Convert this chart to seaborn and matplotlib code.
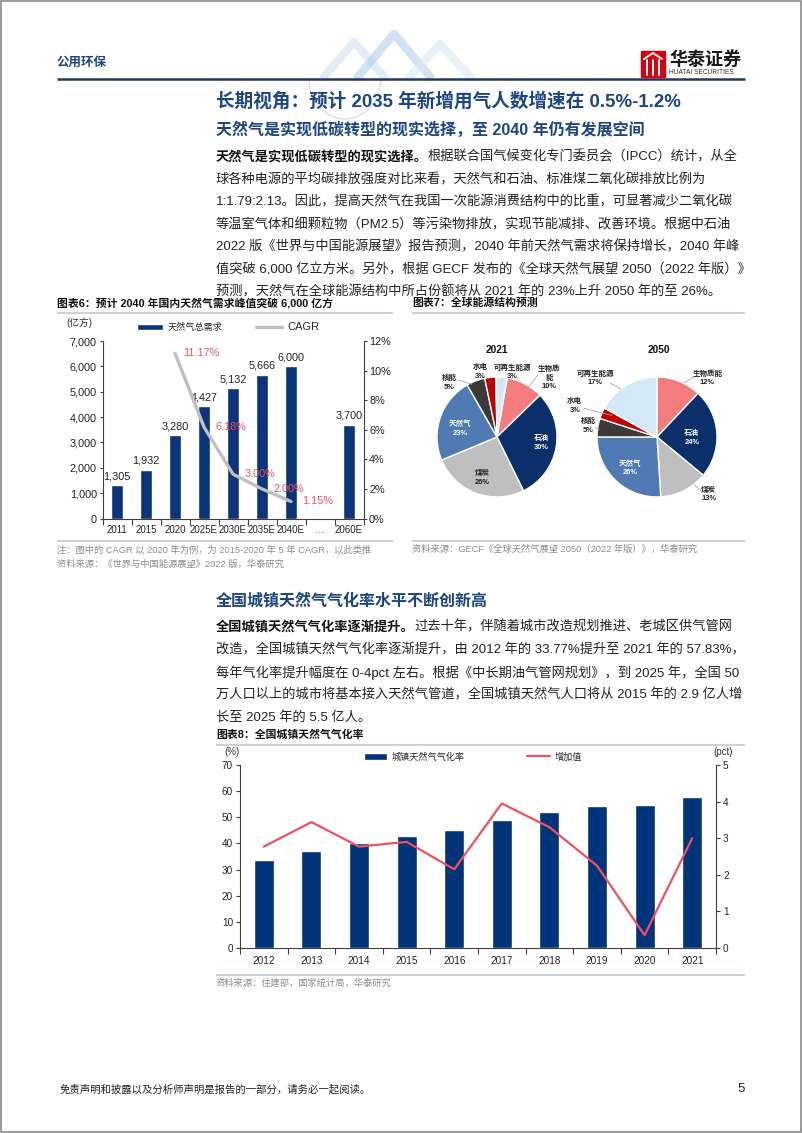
import numpy as np
import pandas as pd
import matplotlib
matplotlib.use('Agg')
import matplotlib.pyplot as plt
import seaborn as sns
from matplotlib.patches import Rectangle, Patch, Arc
from matplotlib.lines import Line2D

# ---------------- data ----------------
demand_years = ['2011', '2015', '2020', '2025E', '2030E', '2035E', '2040E', '…', '2060E']
demand_values = [1305, 1932, 3280, 4427, 5132, 5666, 6000, None, 3700]
cagr_years = ['2020', '2025E', '2030E', '2035E', '2040E']
cagr_values = [11.17, 6.18, 3.00, 2.00, 1.15]

energy_types = ['生物质能', '石油', '煤炭', '天然气', '核能', '水电', '可再生能源']
share_2021 = [10, 30, 26, 23, 5, 3, 3]
share_2050 = [12, 24, 13, 26, 5, 3, 17]

gas_years = ['2012', '2013', '2014', '2015', '2016', '2017', '2018', '2019', '2020', '2021']
gasification_rate = [33.77, 37.2, 40.0, 42.8, 45.0, 48.9, 52.2, 54.5, 54.8, 57.83]
rate_increase = [2.77, 3.44, 2.77, 2.90, 2.15, 3.95, 3.30, 2.25, 0.35, 3.00]

# ---------------- style ----------------
sns.set_theme(style='white')
plt.rcParams['font.family'] = ['Liberation Sans', 'Noto Sans CJK SC', 'DejaVu Sans']
plt.rcParams['axes.unicode_minus'] = False

W, H = 802, 1133
NAVY = '#0A357A'
HEAD = '#1B4584'
GRAYTXT = '#8C8C8C'
RULE = '#BFCBDA'
RED = '#F2505F'
NOTE_FS = 6.7

fig = plt.figure(figsize=(W / 100, H / 100), dpi=100)
fig.patch.set_facecolor('white')
ov = fig.add_axes([0, 0, 1, 1])
ov.set_xlim(0, W)
ov.set_ylim(H, 0)
ov.axis('off')


def rect(x0, y0, x1, y1):
    return [x0 / W, 1 - y1 / H, (x1 - x0) / W, (y1 - y0) / H]


def rule(x0, x1, y, color=RULE, lw=1.2):
    ov.plot([x0, x1], [y, y], color=color, lw=lw, solid_capstyle='butt')


# page border
ov.add_patch(Rectangle((0.8, 0.8), W - 1.6, H - 1.6, fill=False, ec='#8a8a8a', lw=1.2))

# ---------------- header ----------------
for pts, c in [([(322, 79), (354, 42), (386, 79)], '#D3E2F1'),
               ([(356, 79), (394, 34), (432, 79)], '#B4CFEC'),
               ([(408, 79), (440, 44), (472, 79)], '#DCE7F3')]:
    xs, ys = zip(*pts)
    ov.plot(xs, ys, color=c, lw=6, alpha=0.6, solid_capstyle='butt')
ov.add_patch(Arc((345, 79), 72, 80, theta1=0, theta2=180, ec='#DADFE6', lw=1.0))
ov.text(57, 63, '公用环保', fontsize=9, color=HEAD, fontweight='bold', va='center', ha='left')
rule(57, 745, 79, color='#1F3864', lw=1.8)
# logo
ov.add_patch(Rectangle((641, 51), 24, 26, color='#D7000F'))
for xx in (647, 653, 659):
    ov.plot([xx, xx], [60, 75], color='white', lw=1.4)
ov.plot([644, 653, 662], [59, 53, 59], color='white', lw=1.4)
ov.text(669, 60, '华泰证券', fontsize=13, fontweight='bold', color='#1a1a1a', va='center', ha='left')
ov.text(669, 73, 'HUATAI SECURITIES', fontsize=4.8, color='#333333', va='center', ha='left')

# ---------------- section 1 text ----------------
ov.text(216, 101, '长期视角：预计 2035 年新增用气人数增速在 0.5%-1.2%', fontsize=13.4,
        fontweight='bold', color=HEAD, va='center', ha='left')
ov.text(216, 130, '天然气是实现低碳转型的现实选择，至 2040 年仍有发展空间', fontsize=11.5,
        fontweight='bold', color=HEAD, va='center', ha='left')

PFS = 9.5


def para(lines, y0, dy, bold_head):
    for i, line in enumerate(lines):
        y = y0 + i * dy
        if i == 0:
            t = ov.text(216, y, bold_head, fontsize=PFS, fontweight='bold', color='#111111',
                        va='center', ha='left')
            ov.annotate(line, xy=(1, 0.5), xycoords=t, fontsize=PFS, color='#222222',
                        va='center', ha='left')
        else:
            ov.text(216, y, line, fontsize=PFS, color='#222222', va='center', ha='left')


para(['根据联合国气候变化专门委员会（IPCC）统计，从全',
      '球各种电源的平均碳排放强度对比来看，天然气和石油、标准煤二氧化碳排放比例为',
      '1:1.79:2.13。因此，提高天然气在我国一次能源消费结构中的比重，可显著减少二氧化碳',
      '等温室气体和细颗粒物（PM2.5）等污染物排放，实现节能减排、改善环境。根据中石油',
      '2022 版《世界与中国能源展望》报告预测，2040 年前天然气需求将保持增长，2040 年峰',
      '值突破 6,000 亿立方米。另外，根据 GECF 发布的《全球天然气展望 2050（2022 年版）》',
      '预测，天然气在全球能源结构中所占份额将从 2021 年的 23%上升 2050 年的至 26%。'],
     157, 22.5, '天然气是实现低碳转型的现实选择。')

# ---------------- chart 6 ----------------
ov.text(57, 303, '图表6：预计 2040 年国内天然气需求峰值突破 6,000 亿方', fontsize=7.8,
        fontweight='bold', color='#111111', va='center', ha='left')
rule(57, 393, 313)
rule(57, 393, 541)
ov.text(57, 550, '注：图中的 CAGR 以 2020 年为例，为 2015-2020 年 5 年 CAGR，以此类推',
        fontsize=NOTE_FS, color=GRAYTXT, va='center', ha='left')
ov.text(57, 564, '资料来源：《世界与中国能源展望》2022 版，华泰研究',
        fontsize=NOTE_FS, color=GRAYTXT, va='center', ha='left')
ov.text(66, 323, '(亿方)', fontsize=7, color='#333333', va='center', ha='left')

df6 = pd.DataFrame({'year': demand_years, 'value': demand_values}).dropna()
ax6 = fig.add_axes(rect(102.5, 341, 363.5, 518.5))
ax6.set_facecolor('none')
sns.barplot(data=df6, x='year', y='value', order=demand_years, color=NAVY, saturation=1,
            width=0.41, ax=ax6)
ax6.bar_label(ax6.containers[0], fmt='{:,.0f}', padding=3, fontsize=7.8, color='#222222')
ax6.set_xlim(-0.5, len(demand_years) - 0.5)
ax6.set_ylim(0, 7000)
ax6.set_yticks(range(0, 7001, 1000))
ax6.set_yticklabels([f'{v:,}' for v in range(0, 7001, 1000)])
ax6.set_xticks(range(len(demand_years)))
ax6.set_xticklabels(demand_years)
ax6.set_xticks(np.arange(-0.5, len(demand_years)), minor=True)
ax6.set_xlabel('')
ax6.set_ylabel('')
ax6.tick_params(axis='y', left=True, length=2.5, width=0.8, color='#404040', labelsize=7.8,
                pad=1.5, labelcolor='#222222')
ax6.tick_params(axis='x', which='major', length=0, labelsize=7.0, pad=5, labelcolor='#222222')
ax6.tick_params(axis='x', which='minor', bottom=True, length=4, width=0.8, color='#404040')
for s in ['top', 'right']:
    ax6.spines[s].set_visible(False)
for s in ['left', 'bottom']:
    ax6.spines[s].set_color('#404040')
    ax6.spines[s].set_linewidth(0.8)

ax6b = ax6.twinx()
ax6b.set_facecolor('none')
cagr_pos = [demand_years.index(y) for y in cagr_years]
sns.lineplot(x=cagr_pos, y=cagr_values, ax=ax6b, color='#BFBFBF', lw=2.4, legend=False)
for x, v in zip(cagr_pos, cagr_values):
    ax6b.text(x + 0.92, v, f'{v:.2f}%', color=RED, fontsize=7.8, ha='center', va='center')
ax6b.set_ylim(0, 12)
ax6b.set_yticks(range(0, 13, 2))
ax6b.set_yticklabels([f'{v}%' for v in range(0, 13, 2)])
ax6b.set_xlim(-0.5, len(demand_years) - 0.5)
ax6b.set_xlabel('')
ax6b.set_ylabel('')
ax6b.tick_params(axis='y', right=True, length=2.5, width=0.8, color='#404040', labelsize=7.8,
                 pad=1.5, labelcolor='#222222')
for s in ['top', 'left', 'bottom']:
    ax6b.spines[s].set_visible(False)
ax6b.spines['right'].set_color('#404040')
ax6b.spines['right'].set_linewidth(0.8)

leg6 = ax6b.legend([Patch(facecolor=NAVY), Line2D([0], [0], color='#BFBFBF', lw=2.4)],
                   ['天然气总需求', 'CAGR'], loc='center', ncol=2, frameon=False,
                   bbox_to_anchor=(228 / W, 1 - 327 / H), bbox_transform=fig.transFigure,
                   fontsize=6.6, handlelength=2.9, handletextpad=0.5, columnspacing=3.6)
leg6.get_texts()[1].set_fontsize(8)

# ---------------- chart 7 ----------------
ov.text(412, 303, '图表7：全球能源结构预测', fontsize=7.8, fontweight='bold', color='#111111',
        va='center', ha='left')
rule(412, 745, 313)
rule(412, 745, 541)
ov.text(412, 549, '资料来源：GECF《全球天然气展望 2050（2022 年版）》，华泰研究',
        fontsize=NOTE_FS, color=GRAYTXT, va='center', ha='left')

pie_colors = ['#F47C7C', '#0B2F6B', '#BFBFBF', '#4F7AB3', '#3A3A3A', '#C00000', '#D3E9F8']
R = 60.0
SPAN = 1.6


def draw_pie(cx, cy, year, title_x, shares, start, label_text, label_pos, label_color, leaders):
    ax = fig.add_axes(rect(cx - R * SPAN, cy - R * SPAN, cx + R * SPAN, cy + R * SPAN))
    ax.pie(shares, colors=pie_colors, startangle=start, counterclock=False, radius=1,
           wedgeprops=dict(edgecolor='white', linewidth=1.0))
    ax.set_xlim(-SPAN, SPAN)
    ax.set_ylim(-SPAN, SPAN)
    ax.set_aspect('equal')
    ax.axis('off')
    for (x0, y0, x1, y1) in leaders:
        ax.plot([x0, x1], [y0, y1], color='#A6A6A6', lw=0.6)
    for txt, (px, py), col in zip(label_text, label_pos, label_color):
        ax.text(px, py, txt, fontsize=5.4, fontweight='bold', color=col, ha='center',
                va='center', linespacing=1.3)
    ov.text(title_x, 350, year, fontsize=7.3, fontweight='bold', color='#111111', ha='center',
            va='center')


lab21 = [f'{n}\n{s}%' for n, s in zip(energy_types, share_2021)]
lab21[0] = '生物质\n能\n10%'
pos21 = [(0.87, 0.98), (0.74, -0.1), (-0.25, -0.68), (-0.62, 0.14), (-0.8, 0.9),
         (-0.28, 1.08), (0.25, 1.08)]
col21 = ['#222222', 'white', '#222222', 'white', '#222222', '#222222', '#222222']
draw_pie(497, 437, '2021', 497, share_2021, 90 - 3 * 3.6 + 1, lab21, pos21, col21,
         [(0.5, 0.8, 0.68, 1.03), (-0.42, 0.88, -0.64, 0.95)])

lab50 = [f'{n}\n{s}%' for n, s in zip(energy_types, share_2050)]
pos50 = [(0.84, 0.98), (0.58, -0.02), (0.86, -0.96), (-0.45, -0.52), (-1.15, 0.18),
         (-1.37, 0.52), (-1.03, 0.98)]
col50 = ['#222222', 'white', '#222222', 'white', '#222222', '#222222', '#222222']
draw_pie(657, 437, '2050', 659, share_2050, 90, lab50, pos50, col50,
         [(0.45, 0.9, 0.62, 1.0), (0.62, -0.8, 0.74, -0.9), (-0.6, 0.8, -0.78, 0.9),
          (-0.75, 0.36, -1.22, 0.48), (-0.96, 0.12, -1.02, 0.16)])

# ---------------- section 2 ----------------
ov.text(216, 600, '全国城镇天然气气化率水平不断创新高', fontsize=11.5, fontweight='bold',
        color=HEAD, va='center', ha='left')
para(['过去十年，伴随着城市改造规划推进、老城区供气管网',
      '改造，全国城镇天然气气化率逐渐提升，由 2012 年的 33.77%提升至 2021 年的 57.83%，',
      '每年气化率提升幅度在 0-4pct 左右。根据《中长期油气管网规划》，到 2025 年，全国 50',
      '万人口以上的城市将基本接入天然气管道，全国城镇天然气人口将从 2015 年的 2.9 亿人增',
      '长至 2025 年的 5.5 亿人。'],
     627, 22.7, '全国城镇天然气气化率逐渐提升。')

# ---------------- chart 8 ----------------
ov.text(216, 735, '图表8：全国城镇天然气气化率', fontsize=7.8, fontweight='bold', color='#111111',
        va='center', ha='left')
rule(216, 745, 745)
rule(216, 745, 975)
ov.text(216, 983, '资料来源：住建部，国家统计局，华泰研究', fontsize=NOTE_FS, color=GRAYTXT,
        va='center', ha='left')
ov.text(224, 752, '(%)', fontsize=7, color='#333333', va='center', ha='left')
ov.text(713, 752, '(pct)', fontsize=7, color='#333333', va='center', ha='left')

ax8 = fig.add_axes(rect(240, 765, 716, 948))
ax8.set_facecolor('none')
sns.barplot(x=gas_years, y=gasification_rate, color='#003478', saturation=1, width=0.42, ax=ax8)
ax8.set_xlim(-0.5, len(gas_years) - 0.5)
ax8.set_ylim(0, 70)
ax8.set_yticks(range(0, 71, 10))
ax8.set_xticks(np.arange(-0.5, len(gas_years)), minor=True)
ax8.tick_params(axis='y', left=True, length=3, width=0.8, color='#404040', labelsize=7.2,
                pad=2, labelcolor='#222222')
ax8.tick_params(axis='x', which='major', length=0, labelsize=7.2, pad=6, labelcolor='#222222')
ax8.tick_params(axis='x', which='minor', bottom=True, length=4, width=0.8, color='#404040')
ax8.set_xlabel('')
ax8.set_ylabel('')
for s in ['top', 'right']:
    ax8.spines[s].set_visible(False)
for s in ['left', 'bottom']:
    ax8.spines[s].set_color('#404040')
    ax8.spines[s].set_linewidth(0.8)

ax8b = ax8.twinx()
ax8b.set_facecolor('none')
sns.lineplot(x=list(range(len(gas_years))), y=rate_increase, ax=ax8b, color=RED, lw=1.6,
             legend=False)
ax8b.set_ylim(0, 5)
ax8b.set_yticks(range(0, 6))
ax8b.set_xlim(-0.5, len(gas_years) - 0.5)
ax8b.set_xlabel('')
ax8b.set_ylabel('')
ax8b.tick_params(axis='y', right=True, length=3, width=0.8, color='#404040', labelsize=7.2,
                 pad=2, labelcolor='#222222')
for s in ['top', 'left', 'bottom']:
    ax8b.spines[s].set_visible(False)
ax8b.spines['right'].set_color('#404040')
ax8b.spines['right'].set_linewidth(0.8)

leg8 = ax8b.legend([Patch(facecolor='#003478'), Line2D([0], [0], color=RED, lw=1.6)],
                   ['城镇天然气气化率', '增加值'], loc='center', ncol=2, frameon=False,
                   bbox_to_anchor=(473 / W, 1 - 757 / H), bbox_transform=fig.transFigure,
                   fontsize=6.6, handlelength=2.5, handletextpad=0.5, columnspacing=6.8)

# ---------------- footer ----------------
ov.text(60, 1089, '免责声明和披露以及分析师声明是报告的一部分，请务必一起阅读。', fontsize=7.5,
        color='#222222', style='italic', va='center', ha='left')
ov.text(745, 1089, '5', fontsize=9.5, color='#222222', va='center', ha='right')

fig.savefig('out.png', dpi=100, facecolor='white')
